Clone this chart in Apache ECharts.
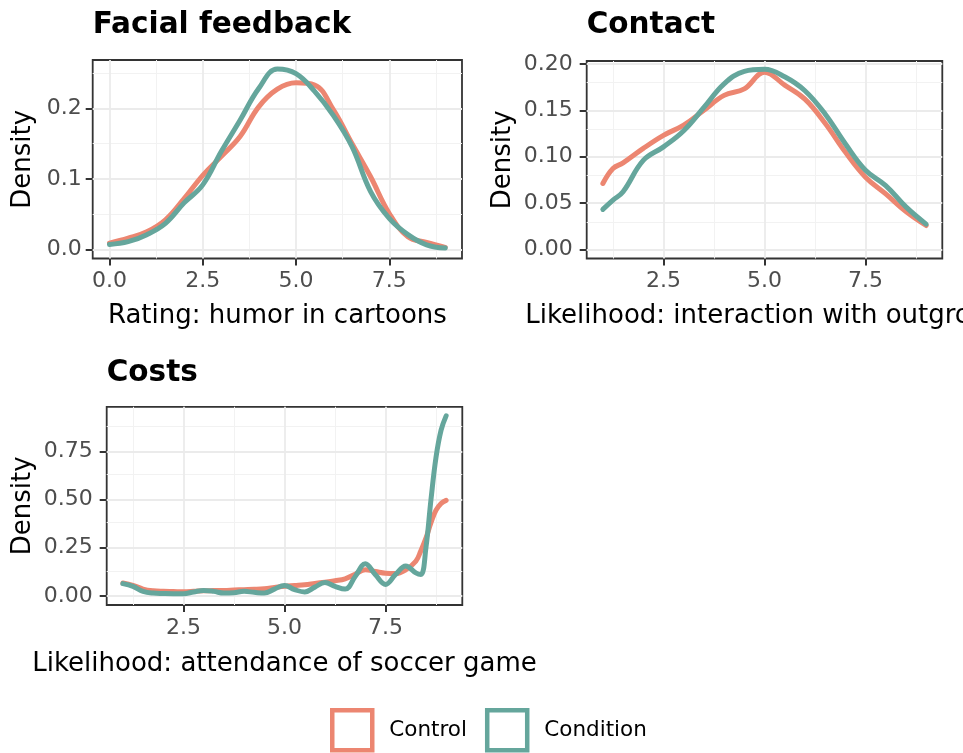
<!DOCTYPE html>
<html><head><meta charset="utf-8">
<script src="https://cdn.jsdelivr.net/npm/echarts@6/dist/echarts.min.js"></script>
<style>html,body{margin:0;padding:0;background:#fff}#c{width:963px;height:753px}</style>
</head><body><div id="c"></div>
<script>
// ---------- data ----------
const seriesNames = ['Control', 'Condition'];
const panelTitles = ['Facial feedback', 'Contact', 'Costs'];
const xTitles = ['Rating: humor in cartoons', 'Likelihood: interaction with outgroup', 'Likelihood: attendance of soccer game'];
const yTitle = 'Density';

// Facial feedback
const ffX = [0, 0.5, 1, 1.5, 2, 2.5, 3, 3.5, 4, 4.5, 5, 5.5, 6, 6.5, 7, 7.5, 8, 8.5, 9];
const ffControl = [0.009, 0.016, 0.025, 0.042, 0.072, 0.105, 0.132, 0.160, 0.202, 0.227, 0.236, 0.233, 0.198, 0.150, 0.103, 0.051, 0.018, 0.010, 0.003];
const ffCondition = [0.007, 0.011, 0.021, 0.037, 0.066, 0.0915, 0.139, 0.183, 0.228, 0.2556, 0.249, 0.224, 0.190, 0.146, 0.082, 0.044, 0.021, 0.0066, 0.002];

// Contact
const ctX = [1, 1.25, 1.5, 2, 2.5, 3, 3.5, 4, 4.5, 5, 5.5, 6, 6.5, 7, 7.5, 8, 8.5, 9];
const ctControl = [0.0712, 0.0873, 0.0934, 0.109, 0.123, 0.134, 0.150, 0.166, 0.173, 0.191, 0.177, 0.162, 0.136, 0.105, 0.078, 0.060, 0.041, 0.026];
const ctCondition = [0.0433, 0.0533, 0.0623, 0.096, 0.1106, 0.128, 0.153, 0.1785, 0.1918, 0.194, 0.186, 0.171, 0.146, 0.114, 0.0855, 0.069, 0.046, 0.0275];

// Costs
const csX = [1, 1.25, 1.5, 1.75, 2, 2.25, 2.5, 2.75, 3, 3.25, 3.5, 3.75, 4, 4.25, 4.5, 4.75, 5, 5.25, 5.5, 5.75, 6, 6.25, 6.5, 6.75, 7, 7.25, 7.5, 7.75, 8, 8.25, 8.375, 8.5, 8.625, 8.75, 8.875, 9];
const csControl = [0.067, 0.055, 0.036, 0.027, 0.024, 0.023, 0.022, 0.024, 0.027, 0.028, 0.029, 0.031, 0.033, 0.035, 0.038, 0.044, 0.050, 0.054, 0.058, 0.065, 0.072, 0.079, 0.089, 0.113, 0.136, 0.127, 0.118, 0.116, 0.136, 0.180, 0.235, 0.300, 0.380, 0.445, 0.480, 0.496];
const csCondition = [0.064, 0.050, 0.024, 0.015, 0.013, 0.012, 0.012, 0.021, 0.029, 0.024, 0.015, 0.017, 0.024, 0.019, 0.015, 0.036, 0.055, 0.033, 0.021, 0.046, 0.070, 0.050, 0.036, 0.101, 0.167, 0.110, 0.060, 0.112, 0.155, 0.120, 0.112, 0.250, 0.500, 0.720, 0.860, 0.934];

// tick labels
const ffXTicks = [0, 2.5, 5, 7.5];
const ffYTicks = [0, 0.1, 0.2];
const ctXTicks = [2.5, 5, 7.5];
const ctYTicks = [0, 0.05, 0.1, 0.15, 0.2];
const csXTicks = [2.5, 5, 7.5];
const csYTicks = [0, 0.25, 0.5, 0.75];

// ---------- styling / layout ----------
const FONT = 'DejaVu Sans';
const colors = ['#EC8671', '#65A69C'];
const panels = [
  { x: ffX, ys: [ffControl, ffCondition], xt: ffXTicks, yt: ffYTicks, yDec: 1,
    left: 92.7, top: 60, width: 369.3, height: 198.5, xMin: -0.45, xMax: 9.45, yMin: -0.0128, yMax: 0.2684,
    yMargin: 11, yNameX: 23.5, xNameGap: 45, titleLeft: 92.7, titleTop: 10.5 },
  { x: ctX, ys: [ctControl, ctCondition], xt: ctXTicks, yt: ctYTicks, yDec: 2,
    left: 586.7, top: 61, width: 355.6, height: 197.5, xMin: 0.6, xMax: 9.4, yMin: -0.0095, yMax: 0.203,
    yMargin: 14, yNameX: 503.5, xNameGap: 45, titleLeft: 586.7, titleTop: 10.5 },
  { x: csX, ys: [csControl, csCondition], xt: csXTicks, yt: csYTicks, yDec: 2,
    left: 106.7, top: 406.8, width: 355.6, height: 198.2, xMin: 0.6, xMax: 9.4, yMin: -0.0467, yMax: 0.981,
    yMargin: 14, yNameX: 23.5, xNameGap: 46, titleLeft: 106.7, titleTop: 358 }
];

function minors(ticks, lo, hi) {
  const step = ticks[1] - ticks[0];
  const out = [];
  ticks.forEach((t, i) => {
    out.push(t - step / 2);
    if (i === ticks.length - 1) out.push(t + step / 2);
  });
  return out.filter(v => v > lo && v < hi);
}

const grid = [], xAxis = [], yAxis = [], series = [], title = [], graphic = [];
const majorStyle = { color: '#EBEBEB', width: 1.8, type: 'solid' };
const minorStyle = { color: '#F2F2F2', width: 1.0, type: 'solid' };
const tickStyle = { color: '#333', width: 2 };

panels.forEach((p, i) => {
  grid.push({ left: p.left, top: p.top, width: p.width, height: p.height, show: true,
    borderColor: '#333333', borderWidth: 1.8, backgroundColor: 'transparent', containLabel: false });
  title.push({ text: panelTitles[i], left: p.titleLeft, top: p.titleTop, padding: 0,
    textStyle: { fontFamily: FONT, fontSize: 29.5, fontWeight: 'bold', color: '#000' } });
  xAxis.push({ type: 'value', gridIndex: i, min: p.xMin, max: p.xMax, position: 'bottom',
    axisLine: { show: false, onZero: false }, splitLine: { show: false },
    axisTick: { show: true, length: 7, customValues: p.xt, lineStyle: tickStyle },
    axisLabel: { customValues: p.xt, margin: 12, fontFamily: FONT, fontSize: 22, color: '#4D4D4D',
      formatter: v => Number(v).toFixed(1) } });
  yAxis.push({ type: 'value', gridIndex: i, min: p.yMin, max: p.yMax, position: 'left',
    axisLine: { show: false, onZero: false }, splitLine: { show: false },
    axisTick: { show: true, length: 7, customValues: p.yt, lineStyle: tickStyle },
    axisLabel: { customValues: p.yt, margin: p.yMargin, fontFamily: FONT, fontSize: 22, color: '#4D4D4D',
      formatter: v => Number(v).toFixed(p.yDec) } });
  // axis titles as free text (the x title of "Contact" runs past the page edge like the original)
  graphic.push({ type: 'text', x: p.left + p.width / 2, y: p.top + p.height + p.xNameGap, silent: true,
    style: { text: xTitles[i], fontFamily: FONT, fontSize: 26, fill: '#000', align: 'center', verticalAlign: 'top' } });
  graphic.push({ type: 'text', x: p.yNameX, y: p.top + p.height / 2, rotation: Math.PI / 2, silent: true,
    style: { text: yTitle, fontFamily: FONT, fontSize: 26, fill: '#000', align: 'center', verticalAlign: 'middle' } });

  const ml = [];
  minors(p.xt, p.xMin, p.xMax).forEach(v => ml.push({ xAxis: v, lineStyle: minorStyle }));
  minors(p.yt, p.yMin, p.yMax).forEach(v => ml.push({ yAxis: v, lineStyle: minorStyle }));
  p.xt.forEach(v => ml.push({ xAxis: v, lineStyle: majorStyle }));
  p.yt.forEach(v => ml.push({ yAxis: v, lineStyle: majorStyle }));
  series.push({ type: 'line', name: 'grid' + i, xAxisIndex: i, yAxisIndex: i, data: [], z: 1,
    silent: true,
    markLine: { z: 1, silent: true, symbol: 'none', label: { show: false }, animation: false, data: ml } });

  seriesNames.forEach((nm, k) => {
    series.push({ type: 'line', name: nm, xAxisIndex: i, yAxisIndex: i, z: 3 + k,
      data: p.x.map((xv, j) => [xv, p.ys[k][j]]),
      showSymbol: false, symbol: 'none', smooth: 0.4,
      color: colors[k],
      lineStyle: { width: 5, color: colors[k], cap: 'round', join: 'round' } });
  });
});

const chart = echarts.init(document.getElementById('c'), null, { renderer: 'canvas' });
chart.setOption({
  animation: false,
  backgroundColor: '#fff',
  title: title,
  graphic: graphic,
  grid: grid, xAxis: xAxis, yAxis: yAxis, series: series,
  legend: {
    data: seriesNames.map((nm, k) => ({ name: nm, icon: 'rect',
      itemStyle: { color: '#fff', borderColor: colors[k], borderWidth: 4.5 } })),
    left: 330, top: 708, itemWidth: 40, itemHeight: 40, itemGap: 18, padding: 0,
    selectedMode: false,
    textStyle: { fontFamily: FONT, fontSize: 21.5, color: '#000', padding: [0, 0, 0, 12] }
  }
});
</script>
</body></html>
